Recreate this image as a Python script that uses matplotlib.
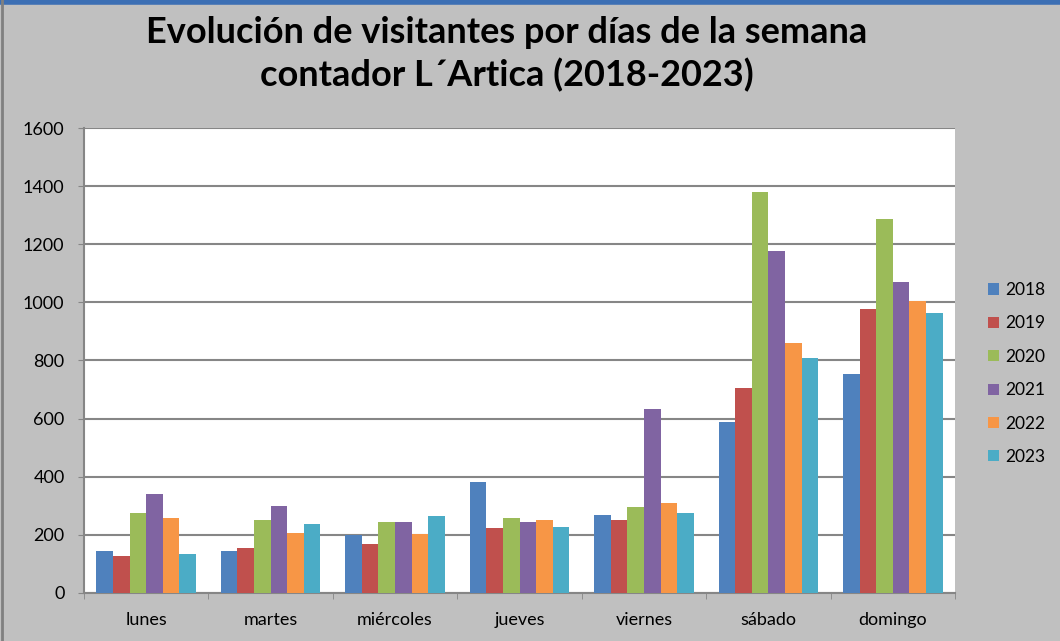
import numpy as np
import matplotlib.pyplot as plt
from matplotlib.lines import Line2D

# data
dias = ['lunes', 'martes', 'miércoles', 'jueves', 'viernes', 'sábado', 'domingo']
years = ['2018', '2019', '2020', '2021', '2022', '2023']
v2018 = [144, 144, 198, 381, 268, 590, 753]
v2019 = [128, 154, 167, 224, 252, 704, 976]
v2020 = [275, 252, 245, 259, 297, 1380, 1287]
v2021 = [340, 298, 245, 245, 632, 1177, 1071]
v2022 = [257, 205, 202, 252, 310, 859, 1004]
v2023 = [135, 237, 266, 227, 275, 810, 963]
series = [v2018, v2019, v2020, v2021, v2022, v2023]
colors = ['#4F81BD', '#C0504D', '#9BBB59', '#8064A2', '#F79646', '#4BACC6']

plt.rcParams['font.family'] = ['Lato', 'DejaVu Sans']

fig = plt.figure(figsize=(10.6, 6.41), dpi=100, facecolor='#C0C0C0')
ax = fig.add_axes([0.0792, 0.0749, 0.8218, 0.7254])
ax.set_facecolor('white')

x = np.arange(len(dias))
w = 0.8 / len(series)
for i in range(len(series)):
    ax.bar(x - 0.4 + w * (i + 0.5), series[i], width=w, color=colors[i],
           label=years[i], zorder=3)

ax.set_xlim(-0.5, len(dias) - 0.5)
ax.set_ylim(0, 1600)
ax.set_yticks(range(0, 1601, 200))
ax.yaxis.grid(True, color='#868686', linewidth=1.5, zorder=0)
ax.set_xticks(x)
ax.set_xticklabels(dias, fontsize=13)
ax.set_xticks(np.arange(-0.5, len(dias), 1), minor=True)
ax.tick_params(axis='x', which='major', length=0, pad=14)
ax.tick_params(axis='x', which='minor', length=4, color='#868686')
ax.tick_params(axis='y', labelsize=13, length=4, color='#868686', pad=10)
for s in ['top', 'right']:
    ax.spines[s].set_visible(False)
ax.spines['left'].set_color('#868686')
ax.spines['left'].set_linewidth(1.5)
ax.spines['bottom'].set_color('#868686')
ax.spines['bottom'].set_linewidth(1.5)

fig.text(0.478, 0.975, 'Evolución de visitantes por días de la semana\ncontador L´Artica (2018-2023)',
         ha='center', va='top', fontsize=26, fontweight='bold', linespacing=1.3)

ax.legend(loc='center left', bbox_to_anchor=(1.02, 0.472), frameon=False,
          fontsize=12.5, handlelength=0.6, handleheight=0.6, handletextpad=0.4,
          labelspacing=1.0)

# window-style borders
fig.add_artist(Line2D([0, 1], [0.997, 0.997], color='#3C6FB4', linewidth=4, transform=fig.transFigure))
fig.add_artist(Line2D([0.002, 0.002], [0, 1], color='#808080', linewidth=2, transform=fig.transFigure))

fig.savefig('out.png', dpi=100, facecolor=fig.get_facecolor())
